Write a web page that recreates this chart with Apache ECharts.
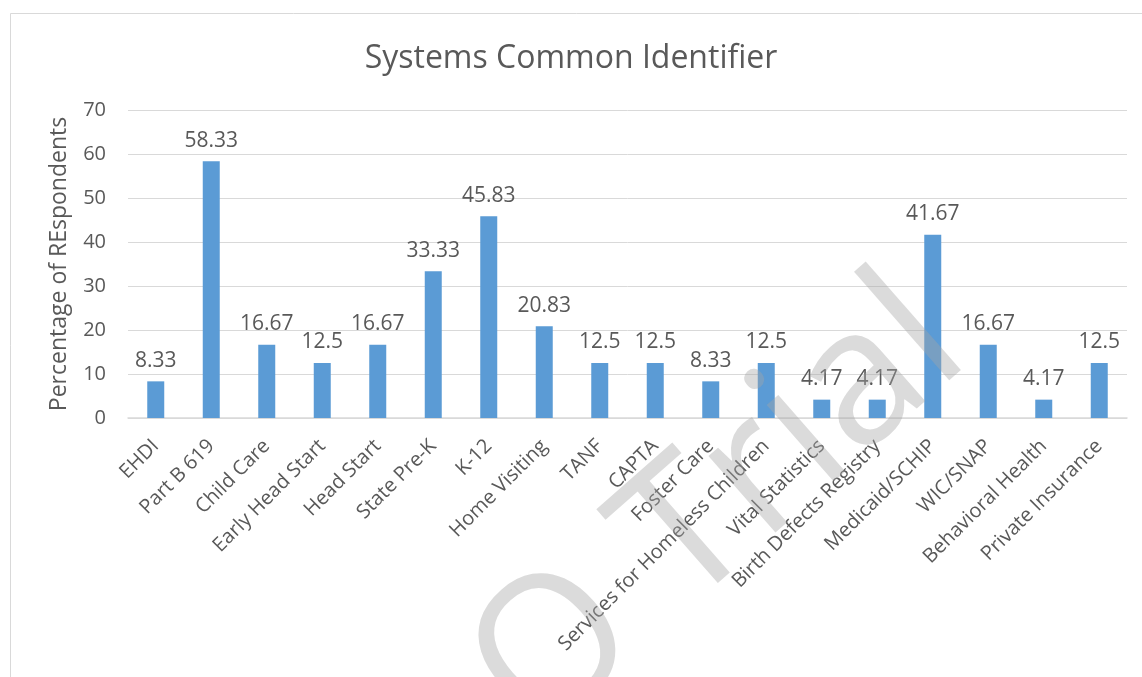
<!DOCTYPE html>
<html>
<head>
<meta charset="utf-8">
<script src="https://cdn.jsdelivr.net/npm/echarts@6/dist/echarts.min.js"></script>
<style>
  html, body { margin: 0; padding: 0; background: #fff; }
  #chart { width: 1142px; height: 677px; }
</style>
</head>
<body>
<div id="chart"></div>
<script>
// systems and share of respondents (%)
var systems = ['EHDI', 'Part B 619', 'Child Care', 'Early Head Start', 'Head Start',
  'State Pre-K', 'K-12', 'Home Visiting', 'TANF', 'CAPTA', 'Foster Care',
  'Services for Homeless Children', 'Vital Statistics', 'Birth Defects Registry',
  'Medicaid/SCHIP', 'WIC/SNAP', 'Behavioral Health', 'Private Insurance'];
var percents = [8.33, 58.33, 16.67, 12.5, 16.67, 33.33, 45.83, 20.83, 12.5, 12.5,
  8.33, 12.5, 4.17, 4.17, 41.67, 16.67, 4.17, 12.5];
var yTicks = [0, 70, 10]; // min, max, step

var font = '"Open Sans", "Liberation Sans", sans-serif';
var textColor = '#595959';

var chart = echarts.init(document.getElementById('chart'));
var option = {
  backgroundColor: '#fff',
  animation: false,
  title: {
    text: 'Systems Common Identifier',
    left: 'center',
    top: 38,
    textStyle: { fontFamily: font, fontSize: 32, fontWeight: 'normal', color: textColor }
  },
  grid: { left: 128, right: 15, top: 110, bottom: 259, containLabel: false },
  xAxis: {
    type: 'category',
    data: systems,
    axisLine: { lineStyle: { color: '#d9d9d9', width: 1.5 } },
    axisTick: { show: false },
    axisLabel: {
      interval: 0,
      rotate: 45,
      margin: 25,
      fontFamily: font,
      fontSize: 20,
      color: textColor
    }
  },
  yAxis: {
    type: 'value',
    min: yTicks[0],
    max: yTicks[1],
    interval: yTicks[2],
    name: 'Percentage of REspondents',
    nameLocation: 'middle',
    nameGap: 57,
    nameTextStyle: { fontFamily: font, fontSize: 23, color: textColor },
    axisLine: { show: false },
    axisTick: { show: false },
    axisLabel: { fontFamily: font, fontSize: 20, color: textColor, margin: 22 },
    splitLine: { lineStyle: { color: '#d9d9d9', width: 1 } }
  },
  series: [{
    type: 'bar',
    data: percents,
    barWidth: 17,
    itemStyle: { color: '#5B9BD5' },
    label: {
      show: true,
      position: 'top',
      distance: 10,
      fontFamily: font,
      fontSize: 21,
      color: textColor
    }
  }],
  graphic: [
    {
      type: 'rect',
      left: 8, top: 11,
      shape: { width: 1200, height: 1000 },
      style: { fill: 'none', stroke: '#d9d9d9', lineWidth: 1 },
      silent: true
    },
    {
      type: 'text',
      x: 1000, y: 390,
      rotation: 0.72,
      z: 100,
      silent: true,
      style: {
        text: 'O Trial',
        align: 'right',
        verticalAlign: 'bottom',
        fontFamily: font,
        fontSize: 190,
        fill: 'rgba(165,165,165,0.4)'
      }
    }
  ]
};
chart.setOption(option);
</script>
</body>
</html>
